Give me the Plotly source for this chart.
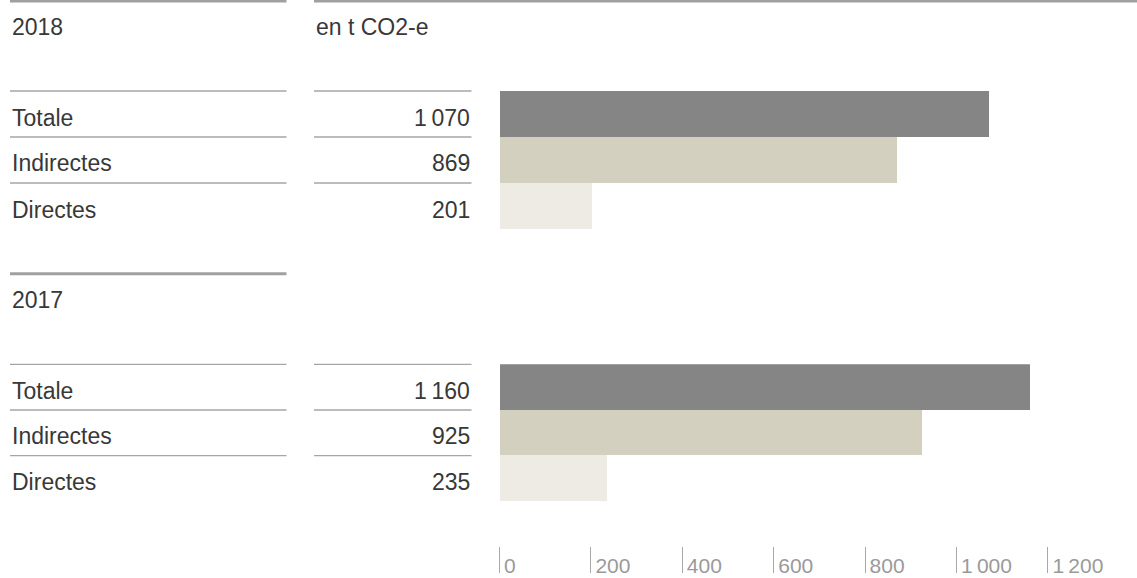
import plotly.graph_objects as go

W, H = 1137, 578

CATEGORIES = ["Totale", "Indirectes", "Directes"]
YEARS = ["2018", "2017"]
VALUES_2018 = [1070, 869, 201]
VALUES_2017 = [1160, 925, 235]
UNIT = "en t CO2-e"
TICKS = [0, 200, 400, 600, 800, 1000, 1200]
COLORS = ["#858585", "#d3d0bf", "#eeebe4"]

FONT = "Liberation Sans, Arial, sans-serif"
TEXT_COLOR = "#383838"
LINE_COLOR = "#a6a6a6"
AXIS_COLOR = "#a8a8a8"


def fmt(v):
    return f"{v:,}".replace(",", "\u2009")


def py(p):
    return 1 - p / H


def px(p):
    return p / W


# layout of the two sections (pixel geometry)
sections = [
    dict(year=YEARS[0], values=VALUES_2018, head=1.0, head_text=27, top=91.0, row=46.0, yaxis="y"),
    dict(year=YEARS[1], values=VALUES_2017, head=273.8, head_text=300, top=364.3, row=45.7, yaxis="y2"),
]

X0_PX = 499.5     # pixel of value 0
SCALE = 0.457     # px per unit
PAD_UNITS = 6     # small padding left of zero so the zero tick is drawn
x_min = -PAD_UNITS
x_max = (W - X0_PX) / SCALE
domain_left = X0_PX - PAD_UNITS * SCALE

fig = go.Figure()
shapes = []
annotations = []

for i, s in enumerate(sections):
    fig.add_trace(go.Bar(
        y=CATEGORIES, x=s["values"], orientation="h",
        marker=dict(color=COLORS, line=dict(width=0)),
        xaxis="x", yaxis=s["yaxis"], showlegend=False, hoverinfo="x+y",
    ))
    shapes.append(dict(type="line", xref="paper", yref="paper",
                       x0=px(10), x1=px(286.5), y0=py(s["head"]), y1=py(s["head"]),
                       line=dict(color="#a0a0a0", width=3)))
    if i == 0:
        shapes.append(dict(type="line", xref="paper", yref="paper",
                           x0=px(314), x1=1, y0=py(s["head"]), y1=py(s["head"]),
                           line=dict(color="#a0a0a0", width=3)))
        annotations.append(dict(text=UNIT, x=px(314), y=py(s["head_text"]), xref="paper", yref="paper",
                                xanchor="left", yanchor="middle", showarrow=False,
                                font=dict(family=FONT, size=23, color=TEXT_COLOR)))
    annotations.append(dict(text=s["year"], x=px(9.5), y=py(s["head_text"]), xref="paper", yref="paper",
                            xanchor="left", yanchor="middle", showarrow=False,
                            font=dict(family=FONT, size=23, color=TEXT_COLOR)))
    for j, (cat, val) in enumerate(zip(CATEGORIES, s["values"])):
        ly = s["top"] + j * s["row"]
        shapes.append(dict(type="line", xref="paper", yref="paper",
                           x0=px(10), x1=px(286.5), y0=py(ly), y1=py(ly),
                           line=dict(color=LINE_COLOR, width=1.3)))
        shapes.append(dict(type="line", xref="paper", yref="paper",
                           x0=px(314), x1=px(471.5), y0=py(ly), y1=py(ly),
                           line=dict(color=LINE_COLOR, width=1.3)))
        cy = ly + s["row"] / 2 + 3.5
        annotations.append(dict(text=cat, x=px(9.5), y=py(cy), xref="paper", yref="paper",
                                xanchor="left", yanchor="middle", showarrow=False,
                                font=dict(family=FONT, size=23, color=TEXT_COLOR)))
        annotations.append(dict(text=fmt(val), x=px(471.5), y=py(cy), xref="paper", yref="paper",
                                xanchor="right", yanchor="middle", showarrow=False,
                                font=dict(family=FONT, size=23, color=TEXT_COLOR)))

s0, s1 = sections
yaxis_common = dict(type="category", categoryorder="array", categoryarray=CATEGORIES,
                    autorange="reversed", visible=False, fixedrange=True)

fig.update_layout(
    width=W, height=H,
    margin=dict(l=0, r=0, t=0, b=0),
    paper_bgcolor="white", plot_bgcolor="white",
    bargap=0,
    separators=".\u2009",
    font=dict(family=FONT, color=TEXT_COLOR),
    xaxis=dict(
        domain=[px(domain_left), 1], range=[x_min, x_max],
        anchor="free", position=py(573),
        showgrid=False, zeroline=False, showline=False,
        tickvals=TICKS, tickformat=",d",
        ticks="inside", ticklen=26, tickwidth=1, tickcolor=AXIS_COLOR,
        ticklabelposition="inside right",
        tickfont=dict(family=FONT, size=21, color="#9a9a9a"),
        automargin=False, fixedrange=True,
    ),
    yaxis=dict(domain=[py(s0["top"] + 3 * s0["row"]), py(s0["top"])], anchor="x", **yaxis_common),
    yaxis2=dict(domain=[py(s1["top"] + 3 * s1["row"]), py(s1["top"])], anchor="x", **yaxis_common),
    shapes=shapes,
    annotations=annotations,
)

try:
    fig.update_xaxes(ticklabelstandoff=-10, ticklabelshift=4)
except Exception:
    pass

fig.write_html(
    "out.html",
    config={"displayModeBar": False},
    post_script="document.body.style.margin='0';document.body.style.overflow='hidden';",
)
